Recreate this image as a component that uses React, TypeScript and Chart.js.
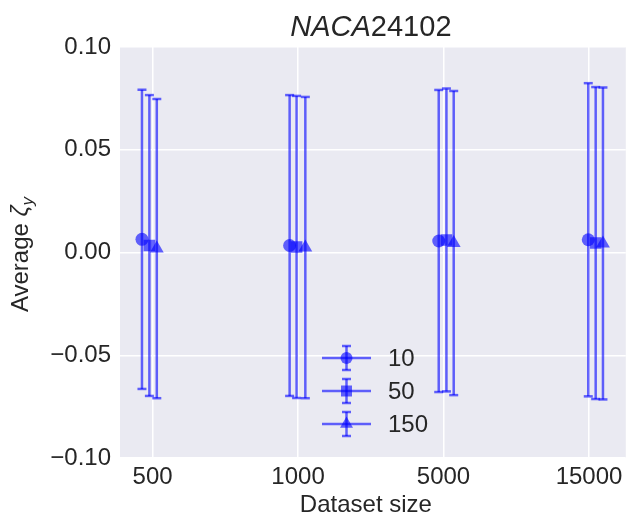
import React, { useEffect, useRef } from 'react';
import { Chart, registerables } from 'chart.js';

Chart.register(...registerables);

const categories = ['500', '1000', '5000', '15000'];
const seriesNames = ['10', '50', '150'];
const xPos10 = [-0.073, 0.942, 1.967, 2.995];
const xPos50 = [-0.022, 0.99, 2.02, 3.046];
const xPos150 = [0.029, 1.05, 2.07, 3.096];
const mean10 = [0.0064, 0.0034, 0.0056, 0.0062];
const mean50 = [0.0034, 0.0027, 0.0061, 0.0046];
const mean150 = [0.0019, 0.0024, 0.0046, 0.0044];
const std10 = [0.0728, 0.0732, 0.0735, 0.0762];
const std50 = [0.0732, 0.0735, 0.0737, 0.0759];
const std150 = [0.0728, 0.0733, 0.074, 0.0759];
const yTicks = [-0.1, -0.05, 0, 0.05, 0.1];
const xTicks = [0, 1, 2, 3];

const FONT = '"Liberation Sans", Arial, sans-serif';
const TEXT = '#262626';
const BLUE = 'rgba(0,0,255,0.6)';
const STYLES = ['circle', 'rect', 'triangle'];
const RADII = [6.5, 8.2, 8];

function drawMarker(ctx: CanvasRenderingContext2D, style: string, x: number, y: number) {
  ctx.beginPath();
  if (style === 'circle') {
    ctx.arc(x, y, 6, 0, Math.PI * 2);
  } else if (style === 'rect') {
    ctx.rect(x - 5.5, y - 5.5, 11, 11);
  } else {
    const r = 7.5;
    ctx.moveTo(x, y - r);
    ctx.lineTo(x + r * Math.sin((2 * Math.PI) / 3), y - r * Math.cos((2 * Math.PI) / 3));
    ctx.lineTo(x + r * Math.sin((4 * Math.PI) / 3), y - r * Math.cos((4 * Math.PI) / 3));
    ctx.closePath();
  }
  ctx.fillStyle = BLUE;
  ctx.fill();
}

export default function App() {
  const ref = useRef<HTMLCanvasElement>(null);
  useEffect(() => {
    document.body.style.margin = '0';
    const xs = [xPos10, xPos50, xPos150];
    const ms = [mean10, mean50, mean150];
    const ss = [std10, std50, std150];

    const datasets = seriesNames.map((name, k) => ({
      label: name,
      data: xs[k].map((x, i) => ({ x, y: ms[k][i] })),
      pointStyle: STYLES[k] as any,
      pointRadius: RADII[k],
      pointHoverRadius: RADII[k],
      backgroundColor: BLUE,
      borderColor: BLUE,
      borderWidth: 0,
      showLine: false,
    }));

    const bgPlugin = {
      id: 'bg',
      beforeDraw(chart: any) {
        const { ctx, chartArea: a } = chart;
        ctx.save();
        ctx.fillStyle = '#EAEAF2';
        ctx.fillRect(a.left, a.top, a.right - a.left, a.bottom - a.top);
        ctx.restore();
      },
    };

    const errPlugin = {
      id: 'errbars',
      beforeDatasetsDraw(chart: any) {
        const { ctx } = chart;
        const xScale = chart.scales.x;
        const yScale = chart.scales.y;
        ctx.save();
        ctx.strokeStyle = BLUE;
        ctx.lineWidth = 2.5;
        for (let k = 0; k < 3; k++) {
          for (let i = 0; i < xs[k].length; i++) {
            const px = xScale.getPixelForValue(xs[k][i]);
            const top = yScale.getPixelForValue(ms[k][i] + ss[k][i]);
            const bot = yScale.getPixelForValue(ms[k][i] - ss[k][i]);
            ctx.beginPath();
            ctx.moveTo(px, top);
            ctx.lineTo(px, bot);
            ctx.stroke();
            ctx.beginPath();
            ctx.moveTo(px - 4.5, top);
            ctx.lineTo(px + 4.5, top);
            ctx.stroke();
            ctx.beginPath();
            ctx.moveTo(px - 4.5, bot);
            ctx.lineTo(px + 4.5, bot);
            ctx.stroke();
          }
        }
        ctx.restore();
      },
    };

    const textPlugin = {
      id: 'texts',
      afterDraw(chart: any) {
        const { ctx, chartArea: a } = chart;
        ctx.save();
        ctx.fillStyle = TEXT;
        // title
        const italic = 'italic 29px ' + FONT;
        const normal = '29px ' + FONT;
        ctx.font = italic;
        const w1 = ctx.measureText('NACA').width;
        ctx.font = normal;
        const w2 = ctx.measureText('24102').width;
        const cx = (a.left + a.right) / 2;
        const tx = cx - 2 - (w1 + w2) / 2;
        ctx.textBaseline = 'alphabetic';
        ctx.textAlign = 'left';
        ctx.font = italic;
        ctx.fillText('NACA', tx, 36);
        ctx.font = normal;
        ctx.fillText('24102', tx + w1, 36);

        // x title
        ctx.font = '24px ' + FONT;
        ctx.textAlign = 'center';
        ctx.fillText('Dataset size', cx - 7, 512);

        // y title
        ctx.save();
        const cy = (a.top + a.bottom) / 2 + 2;
        ctx.translate(28, cy);
        ctx.rotate(-Math.PI / 2);
        ctx.textAlign = 'left';
        ctx.font = '24px ' + FONT;
        const p1 = 'Average ';
        const wa = ctx.measureText(p1).width;
        ctx.font = 'italic 24px ' + FONT;
        const wz = ctx.measureText('ζ').width;
        ctx.font = 'italic 17px ' + FONT;
        const wy = ctx.measureText('y').width;
        const total = wa + wz + wy;
        const sx = -total / 2;
        ctx.font = '24px ' + FONT;
        ctx.fillText(p1, sx, 0);
        ctx.font = 'italic 24px ' + FONT;
        ctx.fillText('ζ', sx + wa, 0);
        ctx.font = 'italic 17px ' + FONT;
        ctx.fillText('y', sx + wa + wz, 5);
        ctx.restore();

        // legend
        const rows = [358, 391, 424];
        const hx = 346.5;
        for (let k = 0; k < 3; k++) {
          const y = rows[k];
          ctx.strokeStyle = BLUE;
          ctx.lineWidth = 2.5;
          ctx.beginPath();
          ctx.moveTo(322, y);
          ctx.lineTo(371, y);
          ctx.stroke();
          ctx.beginPath();
          ctx.moveTo(hx, y - 12);
          ctx.lineTo(hx, y + 12);
          ctx.stroke();
          ctx.beginPath();
          ctx.moveTo(hx - 4.5, y - 12);
          ctx.lineTo(hx + 4.5, y - 12);
          ctx.stroke();
          ctx.beginPath();
          ctx.moveTo(hx - 4.5, y + 12);
          ctx.lineTo(hx + 4.5, y + 12);
          ctx.stroke();
          drawMarker(ctx, STYLES[k], hx, y);
          ctx.fillStyle = TEXT;
          ctx.font = '24px ' + FONT;
          ctx.textAlign = 'left';
          ctx.textBaseline = 'middle';
          ctx.fillText(seriesNames[k], 388, y + 1);
        }
        ctx.restore();
      },
    };

    const chart = new Chart(ref.current!, {
      type: 'scatter',
      data: { datasets },
      plugins: [bgPlugin, errPlugin, textPlugin],
      options: {
        animation: false,
        responsive: true,
        maintainAspectRatio: false,
        devicePixelRatio: 1,
        layout: { padding: { top: 47, right: 7, left: 0, bottom: 0 } },
        plugins: {
          legend: { display: false },
          tooltip: { enabled: false },
          title: { display: false },
        },
        scales: {
          x: {
            type: 'linear',
            min: -0.224,
            max: 3.253,
            afterFit(s: any) {
              s.height = 60;
            },
            afterBuildTicks(s: any) {
              s.ticks = xTicks.map((v) => ({ value: v }));
            },
            grid: { color: '#FFFFFF', lineWidth: 1.5, drawTicks: false },
            border: { display: false },
            ticks: {
              padding: 5,
              color: TEXT,
              font: { family: FONT, size: 24 },
              maxRotation: 0,
              callback: (v: any) => categories[Math.round(Number(v))] ?? '',
            },
          },
          y: {
            type: 'linear',
            min: -0.1,
            max: 0.1,
            afterFit(s: any) {
              s.width = 120;
            },
            afterBuildTicks(s: any) {
              s.ticks = yTicks.map((v) => ({ value: v }));
            },
            grid: { color: '#FFFFFF', lineWidth: 1.5, drawTicks: false },
            border: { display: false },
            ticks: {
              padding: 9,
              color: TEXT,
              font: { family: FONT, size: 24 },
              callback: (v: any) => Number(v).toFixed(2).replace('-', '\u2212'),
            },
          },
        },
      },
    });
    return () => chart.destroy();
  }, []);

  return (
    <div style={{ width: 634, height: 518, position: 'relative' }}>
      <canvas ref={ref} />
    </div>
  );
}
